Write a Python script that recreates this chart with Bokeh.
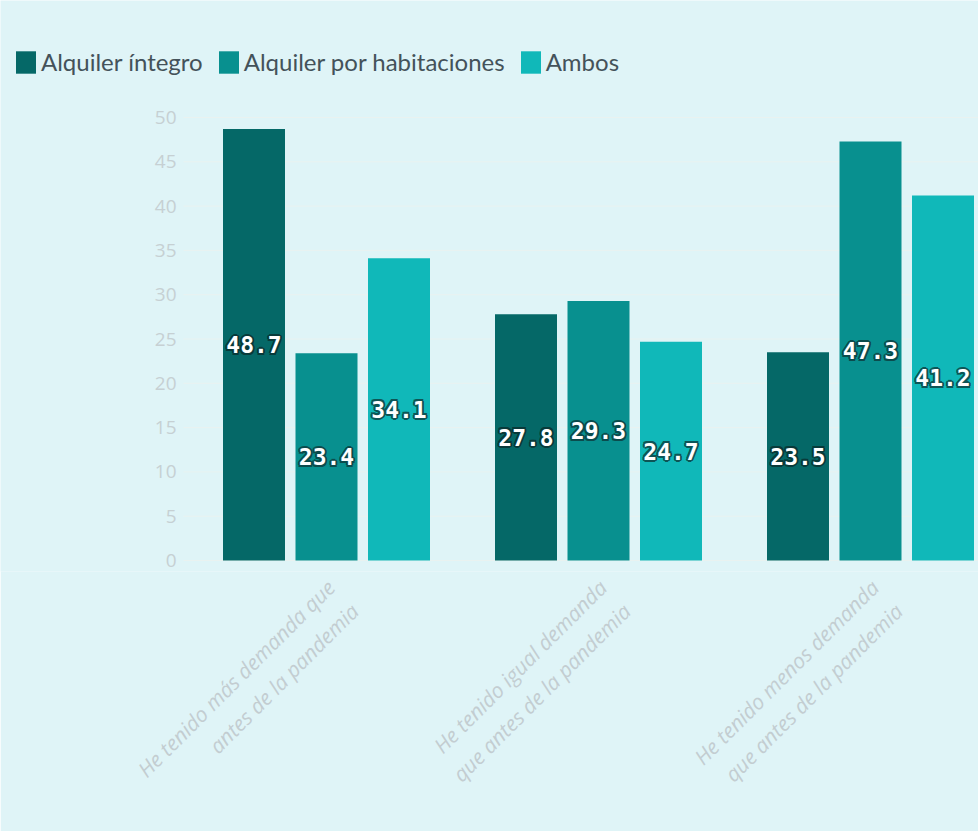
import math
from bokeh.plotting import figure
from bokeh.models import Range1d, FixedTicker, Legend, LegendItem, ColumnDataSource
from bokeh.core.properties import value
from bokeh.embed import file_html
from bokeh.resources import INLINE

categories = [
    "He tenido más demanda que\nantes de la pandemia",
    "He tenido igual demanda\nque antes de la pandemia",
    "He tenido menos demanda\nque antes de la pandemia",
]
series_names = ["Alquiler íntegro", "Alquiler por habitaciones", "Ambos"]
integro = [48.7, 27.8, 23.5]
habitaciones = [23.4, 29.3, 47.3]
ambos = [34.1, 24.7, 41.2]
y_ticks = [0, 5, 10, 15, 20, 25, 30, 35, 40, 45, 50]

series_values = [integro, habitaciones, ambos]
colors = ["#056867", "#08908f", "#10b8b9"]
halo = ["#083a3a", "#0b4c4d", "#0d5556"]

BG = "#dff4f7"
W, H = 978, 831
AXIS_X = 190.0          # pixel where the category axis begins
BASE_Y = 560.0          # pixel of value 0
PX_PER_UNIT = 8.86
FRAME_BOTTOM = 571.0
cat_px = 272.0
x_start = -AXIS_X / cat_px
x_end = (W - AXIS_X) / cat_px
y_start = -(FRAME_BOTTOM - BASE_Y) / PX_PER_UNIT
y_end = BASE_Y / PX_PER_UNIT
offsets = [-72.5 / cat_px, 0.0, 72.5 / cat_px]
bar_w = 62.0 / cat_px
centers = [i + 0.5 for i in range(len(categories))]

p = figure(width=W, height=H, output_backend="svg", toolbar_location=None,
           x_range=Range1d(x_start, x_end), y_range=Range1d(y_start, y_end),
           y_axis_location=None,
           min_border_left=0, min_border_right=0,
           min_border_top=0, min_border_bottom=int(H - FRAME_BOTTOM))
p.background_fill_color = BG
p.border_fill_color = BG
p.outline_line_color = None
p.xgrid.grid_line_color = None
p.ygrid.grid_line_color = None

# gridlines and value-axis labels
p.segment(x0=[(183 - AXIS_X) / cat_px] * len(y_ticks), x1=[x_end] * len(y_ticks),
          y0=y_ticks, y1=y_ticks, line_color="#e9f2f0", line_width=1)
p.text(x=[(176 - AXIS_X) / cat_px] * len(y_ticks), y=y_ticks, text=[str(t) for t in y_ticks],
       text_align="right", text_baseline="middle", text_font=value("Open Sans"),
       text_font_size="19px", text_color="#c6d0d3")

items = []
for k, (name, vals) in enumerate(zip(series_names, series_values)):
    xs = [c + offsets[k] for c in centers]
    src = ColumnDataSource(dict(x=xs, top=vals, mid=[v / 2 for v in vals],
                                lab=[f"{v:.1f}" for v in vals]))
    r = p.vbar(x="x", top="top", bottom=0, width=bar_w, source=src,
               fill_color=colors[k], line_color=None)
    items.append(LegendItem(label=name, renderers=[r]))
    for dx, dy in [(-2, 0), (2, 0), (0, -2), (0, 2), (-1.5, -1.5), (1.5, 1.5), (-1.5, 1.5), (1.5, -1.5)]:
        p.text(x="x", y="mid", text="lab", source=src, x_offset=dx, y_offset=dy,
               text_align="center", text_baseline="middle",
               text_font=value("DejaVu Sans Mono"), text_font_style="bold",
               text_font_size="23px", text_color=halo[k])
    p.text(x="x", y="mid", text="lab", source=src,
           text_align="center", text_baseline="middle",
           text_font=value("DejaVu Sans Mono"), text_font_style="bold",
           text_font_size="23px", text_color="white")

legend = Legend(items=items, orientation="horizontal",
                location=(13, int(FRAME_BOTTOM - 76)))
legend.background_fill_alpha = 0
legend.border_line_color = None
legend.padding = 0
legend.margin = 0
legend.spacing = 13
legend.glyph_width = 25
legend.glyph_height = 28
legend.label_standoff = 3
legend.label_text_font = "Lato"
legend.label_text_font_size = "24px"
legend.label_text_color = "#44525a"
legend.label_height = 28
p.add_layout(legend, "center")

# category axis
tick_shift = 0.06
p.xaxis.ticker = FixedTicker(ticks=[c + tick_shift for c in centers])
p.xaxis.major_label_overrides = {c + tick_shift: lab for c, lab in zip(centers, categories)}
p.xaxis.major_label_orientation = math.pi / 4
p.xaxis.major_label_text_font = "Open Sans"
p.xaxis.major_label_text_font_style = "italic"
p.xaxis.major_label_text_font_size = "21px"
p.xaxis.major_label_text_color = "#c3cdd1"
p.xaxis.major_label_standoff = 18
p.xaxis.axis_line_color = None
p.xaxis.major_tick_line_color = None
p.xaxis.minor_tick_line_color = None

open("out.html", "w").write(file_html(p, INLINE))
